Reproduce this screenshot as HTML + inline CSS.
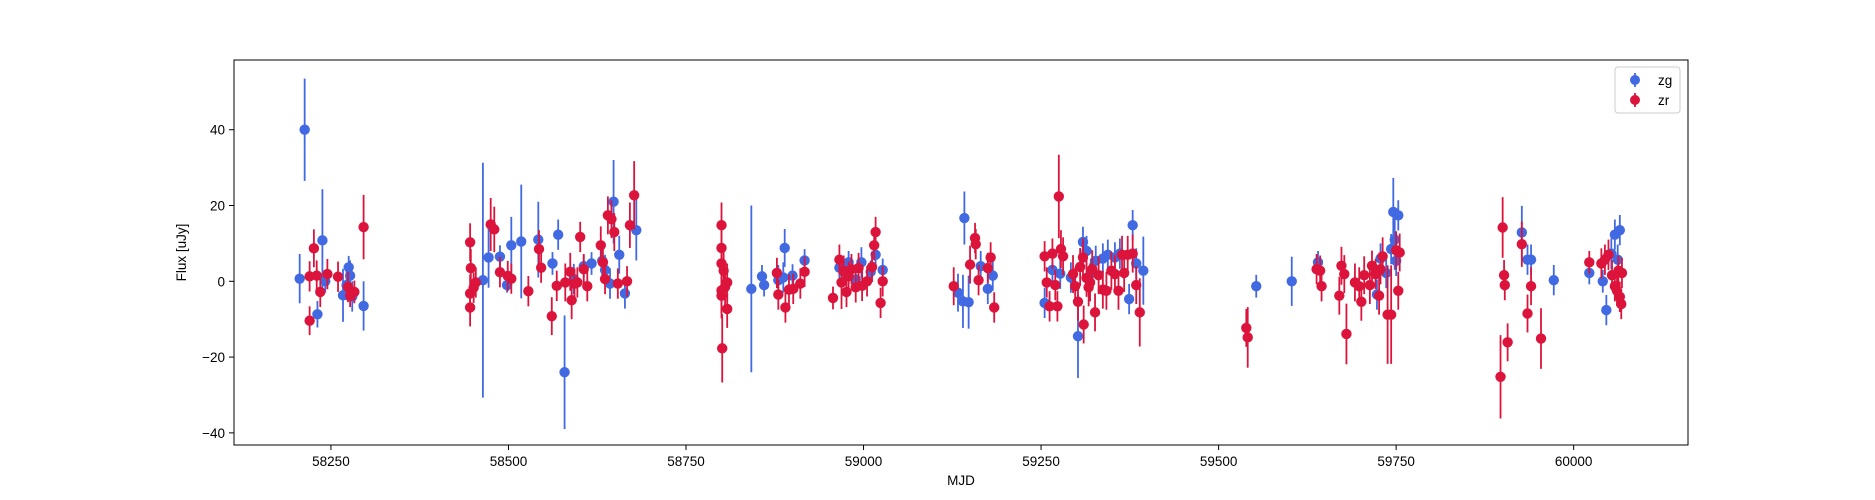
<!DOCTYPE html>
<html><head><meta charset="utf-8"><style>
body{margin:0;background:#fff;}
svg{display:block;font-family:"Liberation Sans","DejaVu Sans",sans-serif;}
</style></head><body>
<svg id="chart" width="1875" height="500">
<g id="marks"></g>
<g id="axes"></g>
</svg>
<script>
const gMjd=[58206,58213,58231,58238,58242,58267,58272,58275,58277,58280,58296,58464,58472,58488,58498,58504,58518,58542,58562,58570,58579,58592,58606,58617,58632,58636,58643,58648,58656,58664,58680,58842,58857,58860,58880,58887,58889,58900,58917,58966,58972,58979,58989,58997,59010,59017,59027,59133,59142,59140,59148,59165,59175,59182,59255,59266,59277,59292,59302,59309,59314,59320,59327,59337,59344,59354,59361,59374,59379,59384,59394,59553,59603,59640,59728,59736,59723,59743,59750,59746,59753,59748,59927,59935,59940,59972,60022,60041,60046,60058,60065,60053,60062];
const gFlux=[0.7,40,-8.7,10.8,0,-3.7,-1,3.7,1.5,-4,-6.5,0.3,6.3,6.5,-1,9.5,10.5,11,4.7,12.3,-24,0.6,4,4.7,5.4,3,-0.6,21,7,-3.2,13.5,-2,1.3,-1,0.3,1,8.8,1.5,5.5,3.6,2.5,5,0.5,5,2.5,7,3,-3,16.7,-5.3,-5.5,4,-2,1.5,-5.7,3,2,1,-14.5,10.4,8,2,5.4,6,7,6.3,7.3,-4.7,14.8,4.7,2.8,-1.3,0,5,6,2.2,-3.5,8.5,5.4,18.3,17.4,11,12.9,5.7,5.7,0.3,2.2,0,-7.6,12.3,13.5,7.3,5.7];
const gErr=[6.5,13.5,3.5,13.5,3,7,4,3,4,4,6.5,31,8,3,2,7.5,15,10,3,4,15,4,3,3,5,4,4,11,5,4,8,22,3,3,4,4,5,3,3,3,3,3,3,4,3,3,3,5,7,7,7,4,4,4,4,4,4,4,11,4,4,4,4,4,4,4,4,4,4,4,9,3,6.5,3,4,4,4,4,4,9,4,8,7,4,4,4,3,3,4,4,4,4,4];
const rMjd=[58220,58220,58226,58230,58235,58245,58260,58274,58277,58283,58296,58446,58447,58446,58446,58451,58454,58475,58480,58488,58499,58504,58528,58543,58546,58561,58568,58580,58587,58589,58593,58597,58601,58606,58611,58630,58633,58636,58640,58645,58649,58654,58667,58671,58677,58800,58800,58800,58800,58800,58801,58803,58805,58808,58808,58878,58880,58890,58895,58901,58911,58917,58957,58966,58969,58972,58976,58979,58983,58989,58993,58998,59005,59012,59015,59017,59024,59027,59127,59150,59157,59158,59162,59175,59179,59184,59255,59258,59262,59266,59270,59273,59275,59278,59281,59295,59298,59302,59305,59309,59310,59314,59317,59319,59322,59326,59331,59337,59342,59349,59354,59359,59364,59367,59372,59379,59384,59389,59539,59541,59638,59643,59645,59716,59721,59728,59726,59738,59743,59750,59755,59753,59731,59692,59698,59701,59705,59713,59680,59670,59673,59677,59897,59900,59902,59903,59907,59927,59935,59940,59954,60022,60039,60044,60049,60054,60058,60061,60063,60065,60067,60068];
const rFlux=[-10.4,1.3,8.7,1.5,-2.8,1.9,1.2,-1.5,-3.8,-2.8,14.3,10.3,3.5,-3.2,-6.9,-1.7,-0.3,15,13.7,2.4,1.4,0.7,-2.6,8.5,3.6,-9.2,-1.2,-0.3,2.5,-5,-0.6,-0.3,11.7,3.2,-1.3,9.5,5,0.6,17.4,16.4,13,-0.6,0,14.8,22.7,14.8,8.8,4.7,-2.4,-3.8,-17.7,2.8,-1.5,-0.3,-7.3,2.2,-3.5,-6.9,-2.2,-2,-0.6,2.5,-4.4,5.7,-0.3,2.8,-2.8,1.3,3.2,-1.6,3.5,-1.2,0,3.8,9.5,13,-5.7,0,-1.3,4.4,11.4,9.8,0.3,3.5,6.3,-6.9,6.6,-0.3,-6.6,7.3,-1,-6.6,22.4,8.5,6.6,1.9,-1.3,-5.4,3.8,6.3,-11.4,0.9,-1.6,-0.3,3.2,-8.2,1.6,-2.2,-2.5,2.8,1.9,-2.5,7,2.2,7,7.3,-1,-8.2,-12.3,-14.8,3.2,2.8,-1.3,4.1,1.9,3.2,-3.8,-8.8,-8.8,8.2,7.6,-2.5,6.6,-0.3,-1.3,-5.4,1.6,-1,-13.9,-3.8,4.1,1.9,-25.2,14.2,1.6,-1,-16.1,9.8,-8.5,-1.3,-15.1,5,4.7,5.7,7,1.6,-1.3,-2.5,2.8,-4.1,-6,2.2];
const rErr=[3.8,4,5,4,4,4,4,4,3,3,8.5,5,5,5,5,4,4,7,6,4,4,4,4,5,4,5,4,5,5,5,4,4,4,4,4,5,5,4,5,5,5,4,4,6,9,6,5,5,6,6,9,5,5,5,5,4,4,4,4,4,4,4,3,4,7,4,4,4,4,4,4,4,4,4,4,4,4,4,5,5,4,4,4,4,4,4,4,4,4,4,4,4,11,5,5,5,5,5,5,5,5,5,5,5,5,5,5,5,5,5,5,5,5,5,5,5,5,9,5,8,4,4,4,4,4,4,5,13,13,5,5,5,5,5,5,5,5,5,8,5,5,5,11,8,4,4,5,6,5,5,8,3,4,4,4,4,4,4,4,4,4,4];
const xTicks=[58250,58500,58750,59000,59250,59500,59750,60000];
const yTicks=[-40,-20,0,20,40];

const L=234,R=1688,T=60,B=445;
const xMin=58113.5,xMax=60161,yMin=-43.2,yMax=58.4;
const xs=v=>L+(v-xMin)/(xMax-xMin)*(R-L);
const ys=v=>B-(v-yMin)/(yMax-yMin)*(B-T);
const NS='http://www.w3.org/2000/svg';
const marks=document.getElementById('marks');
const axes=document.getElementById('axes');
function mk(tag,attrs,parent){const e=document.createElementNS(NS,tag);for(const k in attrs)e.setAttribute(k,attrs[k]);parent.appendChild(e);return e;}

function series(mj,fl,er,color,name){
  const g=mk('g',{},marks);
  
  
  for(let i=0;i<mj.length;i++){
    const x=xs(mj[i]);
    const l=mk('line',{x1:x,x2:x,y1:ys(fl[i]-er[i]),y2:ys(fl[i]+er[i]),stroke:color,'stroke-width':1.8},g);
    
    
    const c=mk('circle',{cx:x,cy:ys(fl[i]),r:5.2,fill:color},g);
    
    
  }
}
series(gMjd,gFlux,gErr,'#4169e1','zg');
series(rMjd,rFlux,rErr,'#dc143c','zr');

const frame=mk('rect',{x:L,y:T,width:R-L,height:B-T,fill:'none',stroke:'#000','stroke-width':1},axes);


xTicks.forEach(t=>{
  const x=xs(t);
  const tk=mk('line',{x1:x,x2:x,y1:B,y2:B+5,stroke:'#000'},axes);
  
  
  const tx=mk('text',{x:x,y:B+21,'text-anchor':'middle','font-size':13.5},axes);
  tx.textContent=t;
  
  
});
yTicks.forEach(t=>{
  const y=ys(t);
  const tk=mk('line',{x1:L-5,x2:L,y1:y,y2:y,stroke:'#000'},axes);
  
  
  const tx=mk('text',{x:L-9,y:y+5,'text-anchor':'end','font-size':13.5},axes);
  tx.textContent=(t<0?'\u2212'+(-t):t);
  
  
});
const xl=mk('text',{x:(L+R)/2,y:485,'text-anchor':'middle','font-size':13.5},axes);
xl.textContent='MJD';


const yl=mk('text',{x:186,y:(T+B)/2,'text-anchor':'middle','font-size':13.5,transform:'rotate(-90 186 '+((T+B)/2)+')'},axes);
yl.textContent='Flux [uJy]';



const lg=mk('g',{},axes);


mk('rect',{x:1615,y:67,width:65,height:46,rx:3,fill:'#fff',stroke:'#ccc','fill-opacity':0.8},lg);
[['zg','#4169e1',80],['zr','#dc143c',100]].forEach(([n,c,y])=>{
  const e=mk('g',{},lg);
  
  
  mk('line',{x1:1635,x2:1635,y1:y-7,y2:y+7,stroke:c,'stroke-width':1.8},e);
  mk('circle',{cx:1635,cy:y,r:5,fill:c},e);
  const t=mk('text',{x:1658,y:y+5,'font-size':13.5},e);
  t.textContent=n;
});
</script>
</body></html>
